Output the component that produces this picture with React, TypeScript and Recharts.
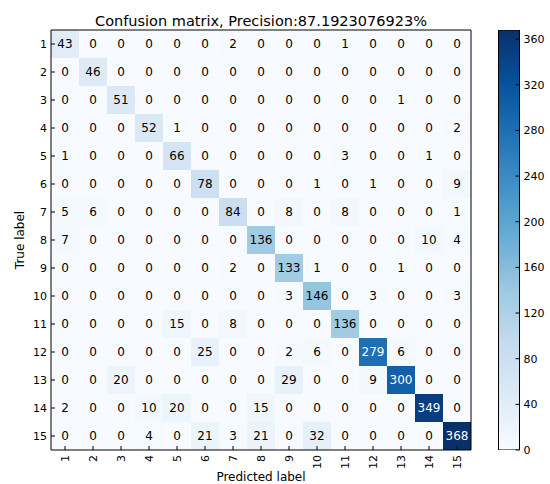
import React from 'react';
import { BarChart, Bar, XAxis, YAxis, LabelList, Cell } from 'recharts';

const TITLE = 'Confusion matrix, Precision:87.1923076923%';
const X_TITLE = 'Predicted label';
const Y_TITLE = 'True label';

const predictedLabels = ['1', '2', '3', '4', '5', '6', '7', '8', '9', '10', '11', '12', '13', '14', '15'];
const trueLabels = ['1', '2', '3', '4', '5', '6', '7', '8', '9', '10', '11', '12', '13', '14', '15'];

// rows = true label, columns = predicted label
const matrix: number[][] = [
  [43, 0, 0, 0, 0, 0, 2, 0, 0, 0, 1, 0, 0, 0, 0],
  [0, 46, 0, 0, 0, 0, 0, 0, 0, 0, 0, 0, 0, 0, 0],
  [0, 0, 51, 0, 0, 0, 0, 0, 0, 0, 0, 0, 1, 0, 0],
  [0, 0, 0, 52, 1, 0, 0, 0, 0, 0, 0, 0, 0, 0, 2],
  [1, 0, 0, 0, 66, 0, 0, 0, 0, 0, 3, 0, 0, 1, 0],
  [0, 0, 0, 0, 0, 78, 0, 0, 0, 1, 0, 1, 0, 0, 9],
  [5, 6, 0, 0, 0, 0, 84, 0, 8, 0, 8, 0, 0, 0, 1],
  [7, 0, 0, 0, 0, 0, 0, 136, 0, 0, 0, 0, 0, 10, 4],
  [0, 0, 0, 0, 0, 0, 2, 0, 133, 1, 0, 0, 1, 0, 0],
  [0, 0, 0, 0, 0, 0, 0, 0, 3, 146, 0, 3, 0, 0, 3],
  [0, 0, 0, 0, 15, 0, 8, 0, 0, 0, 136, 0, 0, 0, 0],
  [0, 0, 0, 0, 0, 25, 0, 0, 2, 6, 0, 279, 6, 0, 0],
  [0, 0, 20, 0, 0, 0, 0, 0, 29, 0, 0, 9, 300, 0, 0],
  [2, 0, 0, 10, 20, 0, 0, 15, 0, 0, 0, 0, 0, 349, 0],
  [0, 0, 0, 4, 0, 21, 3, 21, 0, 32, 0, 0, 0, 0, 368],
];

const colorbarTicks = [0, 40, 80, 120, 160, 200, 240, 280, 320, 360];
const colorbarMax = 368;

const BLUES = ['#f7fbff', '#deebf7', '#c6dbef', '#9ecae1', '#6baed6', '#4292c6', '#2171b5', '#08519c', '#08306b'];

const FONT = '"DejaVu Sans", Verdana, sans-serif';

function hexToRgb(h: string): number[] {
  return [parseInt(h.slice(1, 3), 16), parseInt(h.slice(3, 5), 16), parseInt(h.slice(5, 7), 16)];
}

function blues(t: number): string {
  const c = Math.max(0, Math.min(1, t));
  const pos = c * (BLUES.length - 1);
  const i = Math.min(BLUES.length - 2, Math.floor(pos));
  const f = pos - i;
  const a = hexToRgb(BLUES[i]);
  const b = hexToRgb(BLUES[i + 1]);
  const m = a.map((v, k) => Math.round(v + (b[k] - v) * f));
  return `rgb(${m[0]},${m[1]},${m[2]})`;
}

const maxValue = Math.max(...matrix.map((r) => Math.max(...r)));
const threshold = maxValue / 2;

const columns = predictedLabels.map((p, j) => {
  const row: Record<string, any> = { pred: p };
  trueLabels.forEach((_, i) => {
    row[`r${i}`] = 1;
    row[`v${i}`] = matrix[i][j];
  });
  return row;
});

const rowTicks = trueLabels.map((_, i) => i + 0.5);

const renderCellLabel = (props: any) => {
  const { x, y, width, height, value } = props;
  return (
    <text
      x={Number(x) + Number(width) / 2}
      y={Number(y) + Number(height) / 2}
      textAnchor="middle"
      dominantBaseline="central"
      fontSize={12}
      fontFamily={FONT}
      fill={value > threshold ? '#ffffff' : '#000000'}
    >
      {value}
    </text>
  );
};

const XTick = (props: any) => {
  const { x, y, payload } = props;
  return (
    <text
      x={x}
      y={y}
      transform={`rotate(-90 ${x} ${y})`}
      textAnchor="end"
      dominantBaseline="central"
      fontSize={11}
      fontFamily={FONT}
      fill="#000"
    >
      {payload.value}
    </text>
  );
};

const axisStroke = { stroke: '#000', strokeWidth: 1 };

export default function App() {
  return (
    <div style={{ position: 'absolute', left: 0, top: 0, width: 550, height: 484, background: '#fff', fontFamily: FONT }}>
      <div style={{ position: 'absolute', left: 0, top: 0 }}>
        <BarChart
          width={550}
          height={484}
          data={columns}
          margin={{ top: 29, left: 11, right: 78, bottom: 14 }}
          barCategoryGap={0}
          barGap={0}
        >
          <XAxis
            dataKey="pred"
            type="category"
            interval={0}
            height={20}
            tickSize={-4}
            tickMargin={9}
            tick={<XTick />}
            axisLine={axisStroke}
            tickLine={axisStroke}
          />
          <XAxis
            xAxisId="top"
            dataKey="pred"
            type="category"
            orientation="top"
            interval={0}
            height={1}
            tickSize={-4}
            tick={false}
            axisLine={axisStroke}
            tickLine={axisStroke}
          />
          <YAxis
            type="number"
            domain={[0, trueLabels.length]}
            reversed
            ticks={rowTicks}
            interval={0}
            tickFormatter={(v: number) => trueLabels[Math.floor(v)]}
            width={40}
            tickSize={-4}
            tickMargin={8}
            tick={{ fontSize: 11, fill: '#000', fontFamily: FONT }}
            axisLine={axisStroke}
            tickLine={axisStroke}
            allowDataOverflow
          />
          <YAxis
            yAxisId="right"
            orientation="right"
            type="number"
            domain={[0, trueLabels.length]}
            reversed
            ticks={rowTicks}
            interval={0}
            width={1}
            tickSize={-4}
            tick={false}
            axisLine={axisStroke}
            tickLine={axisStroke}
            allowDataOverflow
          />
          {trueLabels.map((t, i) => (
            <Bar key={t} dataKey={`r${i}`} stackId="cm" isAnimationActive={false}>
              {columns.map((_, j) => (
                <Cell key={j} fill={blues(matrix[i][j] / colorbarMax)} />
              ))}
              <LabelList dataKey={`v${i}`} content={renderCellLabel} />
            </Bar>
          ))}
        </BarChart>
      </div>

      <div style={{ position: 'absolute', left: 490, top: 0 }}>
        <BarChart
          width={60}
          height={484}
          data={[{ name: 'scale', v: colorbarMax }]}
          margin={{ top: 30, left: 8.5, right: 0.5, bottom: 34 }}
          barCategoryGap={0}
        >
          <defs>
            <linearGradient id="bluesGrad" x1="0" y1="1" x2="0" y2="0">
              {BLUES.map((c, k) => (
                <stop key={k} offset={k / (BLUES.length - 1)} stopColor={c} />
              ))}
            </linearGradient>
          </defs>
          <XAxis dataKey="name" type="category" hide />
          <YAxis
            orientation="right"
            type="number"
            domain={[0, colorbarMax]}
            ticks={colorbarTicks}
            interval={0}
            width={30}
            tickSize={-4}
            tickMargin={8}
            axisLine={false}
            tick={{ fontSize: 11, fill: '#000', fontFamily: FONT, textAnchor: 'start' }}
            tickLine={axisStroke}
            allowDataOverflow
          />
          <Bar dataKey="v" fill="url(#bluesGrad)" stroke="#000" strokeWidth={1} isAnimationActive={false} />
        </BarChart>
      </div>

      <svg width={550} height={484} style={{ position: 'absolute', left: 0, top: 0, pointerEvents: 'none' }}>
        <text x={261} y={25.5} textAnchor="middle" fontSize={14.5} fontFamily={FONT} fill="#000">
          {TITLE}
        </text>
        <text x={261} y={481} textAnchor="middle" fontSize={12} fontFamily={FONT} fill="#000">
          {X_TITLE}
        </text>
        <text
          x={20}
          y={240}
          transform="rotate(-90 20 240)"
          textAnchor="middle"
          dominantBaseline="central"
          fontSize={12}
          fontFamily={FONT}
          fill="#000"
        >
          {Y_TITLE}
        </text>
      </svg>
    </div>
  );
}
